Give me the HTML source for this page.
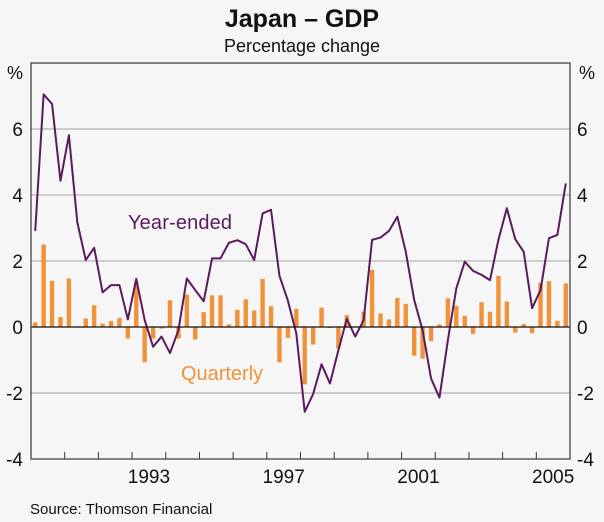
<!DOCTYPE html>
<html><head><meta charset="utf-8"><style>
body{margin:0;background:#f6f6f6;}
svg{display:block;font-family:"Liberation Sans",Arial,sans-serif;}
</style></head><body>
<svg id="chart" width="604" height="522">
<rect x="0" y="0" width="604" height="522" fill="#f6f6f6"/>
<text x="302" y="27" text-anchor="middle" font-size="25" font-weight="bold" fill="#111">Japan – GDP</text>
<text x="302" y="52" text-anchor="middle" font-size="18" fill="#111">Percentage change</text>
<text x="15" y="79" text-anchor="middle" font-size="18" fill="#111">%</text>
<text x="587" y="79" text-anchor="middle" font-size="18" fill="#111">%</text>
<g id="grid"></g><g id="bars"></g><g id="line"></g><g id="axes"></g>
<text x="128" y="229" font-size="20" fill="#5a1a5e" textLength="104">Year-ended</text>
<text x="181" y="380" font-size="20" fill="#f0923a" textLength="82">Quarterly</text>
<text x="30" y="514" font-size="15" fill="#111">Source: Thomson Financial</text>
</svg>
<script>
const quarterly=[0.14,2.5,1.4,0.3,1.47,0.02,0.26,0.66,0.1,0.18,0.27,-0.35,1.35,-1.07,-0.35,-0.05,
0.81,-0.35,0.98,-0.38,0.45,0.96,0.96,0.08,0.52,0.84,0.5,1.46,0.63,-1.07,-0.33,0.55,
-1.74,-0.53,0.59,-0.03,-0.65,0.36,0.02,0.46,1.73,0.41,0.23,0.88,0.7,-0.87,-0.96,-0.43,
0.08,0.87,0.64,0.34,-0.21,0.75,0.46,1.55,0.77,-0.17,0.09,-0.19,1.34,1.39,0.19,1.32];
const yearEnded=[2.91,7.05,6.76,4.43,5.81,3.17,2.03,2.4,1.05,1.27,1.27,0.23,1.46,0.21,-0.6,-0.29,
-0.79,-0.1,1.47,1.12,0.78,2.08,2.08,2.55,2.63,2.51,2.03,3.44,3.55,1.55,0.8,-0.19,
-2.57,-2.03,-1.13,-1.71,-0.7,0.25,-0.29,0.21,2.64,2.71,2.91,3.34,2.28,0.82,-0.1,-1.56,
-2.14,-0.4,1.17,1.98,1.7,1.58,1.42,2.64,3.6,2.66,2.28,0.57,1.12,2.69,2.79,4.35];
const yTicks=[-4,-2,0,2,4,6];
const yearLabels=[1993,1997,2001,2005];
const startYear=1990, endYear=2006;
const L=31,R=570,T=63,B=459,yMin=-4,yMax=8;
const NS="http://www.w3.org/2000/svg";
const xYear=v=>L+(v-startYear)/(endYear-startYear)*(R-L);
const xQ=i=>xYear(startYear+(i+0.5)/4);
const y=v=>B-(v-yMin)/(yMax-yMin)*(B-T);
function mk(tag,attrs,parent){const e=document.createElementNS(NS,tag);for(const k in attrs)e.setAttribute(k,attrs[k]);document.getElementById(parent).appendChild(e);return e;}
yTicks.forEach(t=>{
 if(t!==0&&t!==-4){const g=mk('line',{x1:L,x2:R,y1:y(t),y2:y(t),stroke:'#b4b4b4','stroke-width':1.2},'grid');
 
 }
 const a=mk('text',{x:23,y:y(t)+7,'text-anchor':'end','font-size':19,fill:'#111'},'axes');a.textContent=t;
 
 
 const b=mk('text',{x:577,y:y(t)+7,'font-size':19,fill:'#111'},'axes');b.textContent=t;
 
 
});
quarterly.forEach((v,i)=>{
 const r=mk('rect',{x:xQ(i)-2.2,width:4.4,y:Math.min(y(v),y(0)),height:Math.abs(y(v)-y(0)),fill:'#f0923a'},'bars');
 
 
});
const z=mk('line',{x1:L,x2:R,y1:y(0),y2:y(0),stroke:'#111','stroke-width':1.2},'axes');


const p=mk('polyline',{points:yearEnded.map((v,i)=>xQ(i)+','+y(v)).join(' '),fill:'none',stroke:'#5a1a5e','stroke-width':2,'stroke-linejoin':'round'},'line');


const fr=mk('rect',{x:L,y:T,width:R-L,height:B-T,fill:'none',stroke:'#444','stroke-width':1.3},'axes');


for(let yr=startYear+1;yr<endYear;yr++){
 const t=mk('line',{x1:xYear(yr),x2:xYear(yr),y1:B,y2:B-7,stroke:'#333','stroke-width':1},'axes');
 
 
}
yearLabels.forEach(yr=>{
 const t=mk('text',{x:xYear(yr+0.5),y:483,'text-anchor':'middle','font-size':19,fill:'#111'},'axes');t.textContent=yr;
 
 
});
</script>
</body></html>
